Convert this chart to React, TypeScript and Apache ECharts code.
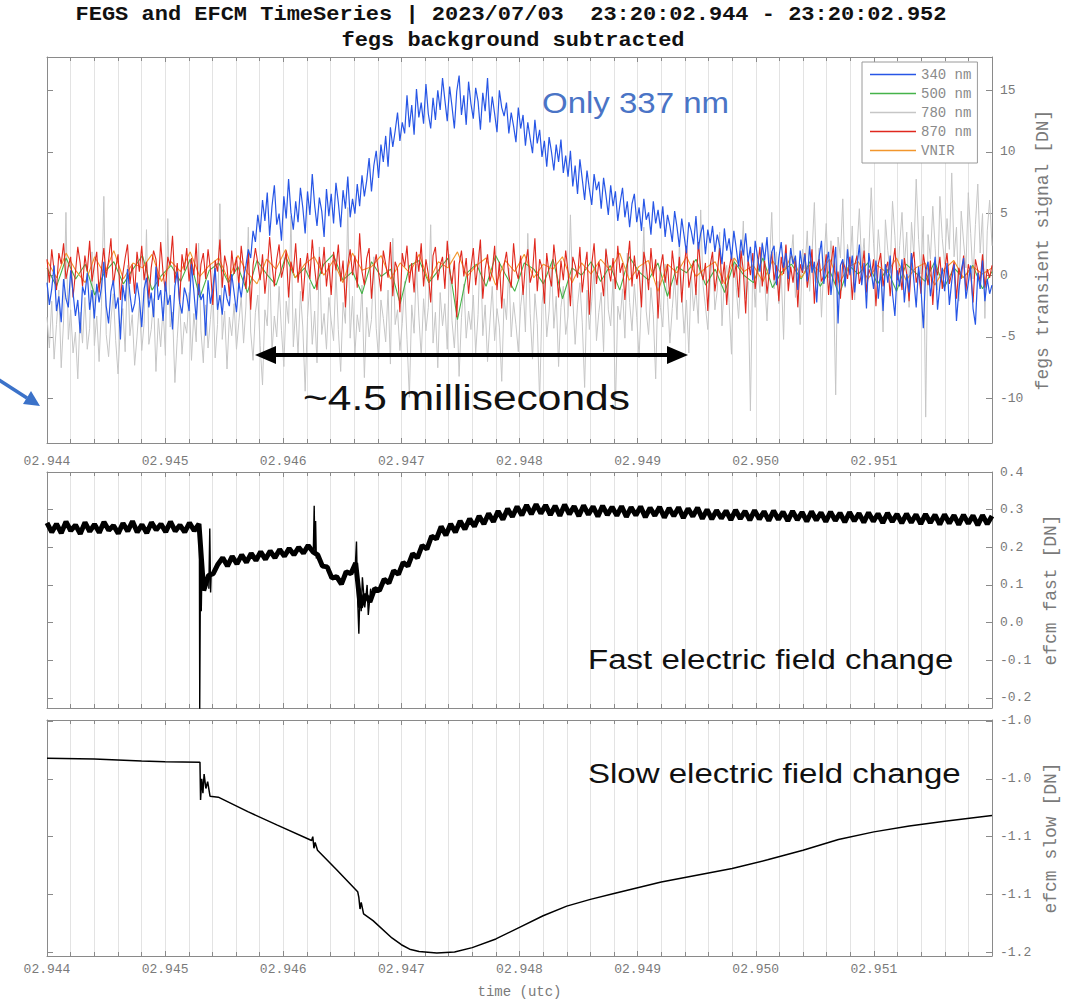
import React, { useEffect, useRef } from "react";
import * as echarts from "echarts";

// ---------------- data ----------------
// time axis is in ms after 23:20:02.944, 0..8 ms
const xTickLabels = ["02.944", "02.945", "02.946", "02.947", "02.948", "02.949", "02.950", "02.951"];
const fegsTicks = [-10, -5, 0, 5, 10, 15];
const fastTicks = [-0.2, -0.1, 0, 0.1, 0.2, 0.3, 0.4];
const slowTicks = [-1.2, -1.14, -1.08, -1.02, -0.96];

// FEGS channels, 400 samples evenly over 8 ms
const fegs340 = [
  -0.6, -2.4, -1.1, 0.8, -2.9, -1.7, -3.8, -0.3, -1.9, -2.6, 0.4, -1.4, -3.3, -2.0, -4.7, -0.9, -1.6, 0.2, -2.8, -1.2,
  -3.5, -0.7, -2.2, -1.0, 1.1, -2.5, -3.9, -1.3, -0.4, -2.7, -1.8, -5.2, -0.8, -2.1, 0.5, -1.5, -3.0, -2.3, -0.6, -1.9,
  -4.2, -1.1, -0.2, -2.6, -1.4, -3.4, 0.7, -2.0, -1.2, -3.7, -0.5, -2.4, -1.6, -4.4, -0.9, 0.3, -2.2, -3.1, -1.0, -1.7,
  -2.9, 0.9, -1.3, -3.6, -0.7, -2.0, -1.5, -4.9, -0.4, -2.3, -1.1, 0.6, -2.8, -1.6, -3.2, -0.8, -1.9, -2.5, 0.1, -1.4,
  -3.0, -0.6, -1.8, -0.2, 0.8, 2.1, 1.4, 3.6, 2.7, 4.9, 3.5, 6.1, 4.4, 6.7, 3.2, 5.6, 7.3, 4.1, 5.0, 2.8,
  6.4, 4.6, 7.8, 5.1, 3.7, 6.0, 4.3, 7.1, 5.5, 3.4, 6.8, 4.9, 8.2, 5.7, 4.0, 6.3, 5.2, 3.1, 7.0, 4.8,
  6.6, 4.2, 7.5, 5.9, 3.9, 6.9, 5.4, 8.0, 4.7, 6.2, 5.0, 7.4, 5.6, 8.1, 6.4, 7.7, 9.5, 6.8, 8.9, 10.1,
  7.9, 10.6, 9.2, 11.3, 8.8, 12.0, 10.4, 11.7, 13.2, 10.9, 12.4, 11.5, 14.6, 12.0, 13.8, 11.4, 15.1, 12.8, 14.0, 12.3,
  15.5, 13.1, 11.9, 14.4, 12.6, 15.0, 13.4, 16.0, 14.2, 12.5, 15.3, 13.7, 11.9, 14.9, 16.2, 13.0, 14.6, 12.2, 15.7, 13.9,
  12.7, 15.2, 14.1, 11.8, 14.8, 13.3, 16.0, 12.4, 14.5, 13.1, 11.6, 15.0, 13.6, 12.9, 14.0, 11.5, 13.2, 12.1, 10.8, 13.6,
  11.9, 13.0, 10.5, 12.4, 11.1, 9.9, 12.6, 10.7, 11.8, 9.6, 10.9, 8.8, 11.2, 10.0, 8.5, 10.6, 9.2, 11.0, 8.3, 9.7,
  8.0, 10.1, 7.2, 8.9, 6.6, 9.4, 7.8, 6.1, 8.5, 7.0, 5.7, 8.2, 6.9, 7.6, 5.4, 7.9, 6.5, 4.9, 7.3, 5.6,
  6.8, 4.4, 5.9, 7.1, 4.7, 6.0, 3.9, 5.8, 6.6, 4.3, 5.5, 3.6, 6.2, 4.5, 5.1, 3.3, 6.0, 4.2, 5.3, 3.8,
  5.6, 3.1, 4.9, 4.0, 2.7, 5.2, 3.9, 2.3, 4.6, 3.2, 1.8, 4.3, 3.6, 2.5, 4.8, 2.1, 3.4, 4.1, 1.7, 3.7,
  2.6, 4.0, 1.9, 3.3, 2.4, 0.9, 3.8, 2.0, 3.0, 1.3, 3.6, 2.2, 0.7, 2.9, 1.6, 3.4, 1.1, 2.3, -0.4, 2.8,
  1.5, 0.3, 2.6, 1.2, 3.1, 0.1, 1.9, 2.4, -0.8, 1.4, 2.7, 0.6, 1.8, -0.3, 2.2, 0.9, 1.6, -1.2, 2.0, 0.4,
  1.7, -0.5, 2.4, 0.2, 1.1, -2.2, 1.5, 2.8, -0.7, 0.9, 1.9, -1.6, 0.4, 2.3, -3.9, 0.8, 1.3, -0.9, 2.1, 0.0,
  1.6, -1.4, 0.7, 2.5, -0.8, 1.0, -2.7, 1.8, 0.3, -1.1, 1.2, -1.9, 0.5, -2.9, 0.9, -0.6, 1.6, -1.5, -3.3, 0.4,
  -0.9, 1.3, -2.2, 0.1, -1.4, 1.8, -0.4, -2.6, 0.7, -1.0, -4.3, 0.3, 1.1, -1.7, -0.2, 1.5, -2.8, -0.8, 0.6, -1.3,
  1.0, -2.4, -0.5, 0.9, -3.7, -1.2, 0.4, 1.4, -1.9, -0.6, 0.8, -2.7, -4.0, 0.2, -1.1, 1.2, -2.1, -0.3, -1.5, -0.8,
];
const fegs780 = [
  -3.4, -5.9, -2.1, -6.8, -4.0, -1.2, -7.5, -3.7, 5.1, -5.2, -2.8, -6.3, -4.6, -8.4, -3.0, -5.5, -1.8, -6.0, -4.3, 1.9,
  -5.7, -3.3, -7.0, -2.5, 6.4, -4.8, -6.6, -3.6, -1.5, -5.3, -8.0, -4.1, -2.7, -6.2, 0.8, -4.9, -3.2, -7.3, -5.0, -2.2,
  -6.1, -3.9, 3.7, -5.6, -4.4, -1.9, -7.8, -3.5, -5.8, -2.6, -6.5, 4.6, -4.2, -3.0, -8.7, -5.1, -2.0, -6.4, -3.8, -4.7,
  -1.4, -6.9, -3.1, -5.4, 2.6, -4.5, -7.1, -2.4, -5.9, -3.6, -1.1, -6.7, -4.0, 5.8, -5.2, -2.9, -7.6, -3.4, -4.9, -2.3,
  -6.0, -3.8, -1.7, -5.5, -2.5, 3.9, -4.6, -6.9, -3.0, -1.6, -5.7, -8.9, -2.8, -4.1, 1.2, -6.2, -3.3, -5.0, -0.9, -4.5,
  -7.4, -2.1, -3.9, 4.8, -5.8, -2.7, -6.5, -1.3, -4.2, -9.4, -3.4, -0.6, -5.6, -2.9, -7.1, 2.3, -4.8, -3.1, -6.0, -1.8,
  -3.7, -5.3, 0.4, -4.4, -7.8, -2.2, -3.9, 5.5, -5.1, -1.7, -6.4, -3.2, -4.6, -0.8, -8.3, -2.6, -5.0, -3.6, 1.5, -4.3,
  -6.8, -2.0, -3.5, -5.4, -1.2, -7.2, 3.0, -4.0, -2.8, -6.1, -3.9, -0.5, -5.2, -9.9, -2.4, -4.7, 0.9, -3.3, -6.6, -1.9,
  -4.5, -2.6, 4.1, -5.5, -3.0, -7.5, -1.4, -4.1, -2.3, -6.0, 1.7, -3.7, -5.9, -2.1, -8.2, -3.4, -0.7, -5.1, -2.9, -4.4,
  -1.6, -6.3, -3.2, 2.8, -4.9, -2.4, -7.0, -3.8, -0.9, -5.3, -2.7, -4.2, -8.6, -1.9, -3.6, 0.6, -5.0, -2.2, -4.0, -6.2,
  -2.5, -0.8, -4.6, 3.4, -3.1, -6.8, -1.5, -3.9, -10.2, -2.3, -0.4, -5.0, -2.9, 1.0, -4.3, -1.7, -7.4, -2.6, -0.9, -4.8,
  -3.3, 4.9, -1.9, -5.6, -2.4, -0.6, -3.8, -9.1, -1.2, -4.4, -2.1, 0.7, -5.3, -3.0, -1.4, -6.2, 2.2, -2.8, -4.1, -0.3,
  -10.8, -2.5, -3.6, -1.1, -5.1, 1.8, -2.2, -4.5, -0.7, -3.4, -6.7, -1.6, 3.9, -2.9, -4.8, -1.0, -3.2, -8.4, -0.5, -2.6,
  -4.2, 0.9, -1.8, -5.5, -2.7, -0.2, -3.6, 2.6, -1.3, -4.7, -2.0, -6.3, 0.3, -2.9, -1.1, -3.9, 5.3, -0.8, -2.5, -4.4,
  -0.6, 1.7, -2.8, -1.2, 3.5, -4.1, -0.3, 0.8, -2.2, -6.4, 1.4, -1.0, -3.5, 0.2, 4.4, -1.9, -0.5, -11.0, 0.9, -2.6,
  1.2, -1.4, 2.7, -0.4, -3.7, 0.6, 5.1, -1.1, 1.9, -2.3, 0.3, -5.2, 2.4, -0.7, 1.0, 3.3, -1.8, 0.1, -4.0, 2.1,
  0.5, 3.6, -1.3, 1.7, 5.9, -0.6, 2.2, -3.4, 1.0, 4.2, -0.2, 2.8, 0.3, -9.7, 3.1, 1.4, 6.2, -1.0, 2.5, 0.7,
  4.0, -2.0, 2.1, 5.4, 0.6, 3.0, -1.5, 1.8, 7.1, 2.6, -0.4, 3.7, 1.2, -4.6, 4.5, 2.0, 0.2, 6.0, 3.2, -0.9,
  2.4, 5.1, 0.8, 3.5, -2.6, 4.3, 1.6, 7.8, 2.9, 0.1, 4.8, -11.5, 3.3, 1.3, 5.6, 2.2, -1.2, 6.4, 3.0, 0.9,
  4.6, 2.1, 8.3, 1.5, 3.9, -2.1, 5.2, 2.7, 0.6, 6.7, 3.4, -0.3, 4.1, 7.4, 1.8, 5.0, -3.5, 3.6, 6.1, 2.4,
];
const fegs870 = [
  1.3, -0.6, 2.1, 0.4, -1.2, 1.8, 0.9, 2.6, -0.3, 0.7, 1.5, -1.8, 0.2, 2.3, 1.0, -0.9, 1.6, 0.3, 2.8, -0.5,
  0.8, 1.9, -1.4, 0.5, 2.2, -0.2, 1.2, 3.0, -0.8, 0.6, 1.7, -2.0, 0.1, 1.4, 2.5, -0.7, 0.9, -1.5, 1.9, 0.3,
  2.4, -0.4, 1.1, -1.9, 0.6, 2.0, 1.3, -0.9, 2.7, 0.2, -1.3, 1.5, 0.8, 3.2, -0.6, 1.0, -2.3, 1.7, 0.4, 2.2,
  -0.5, 1.4, 0.0, 2.6, -1.6, 0.9, 1.8, -0.3, 2.1, 0.5, -2.4, 1.2, 0.3, 2.9, -1.0, 1.6, 0.7, -1.7, 2.0, 0.1,
  1.5, -0.8, 2.4, 0.6, -1.1, 1.9, -2.8, 0.8, 2.2, 1.0, -0.4, 1.7, -1.5, 0.4, 3.1, 0.9, -0.9, 1.3, 2.5, -0.2,
  0.7, 2.0, -1.8, 1.1, 0.2, 2.6, -0.6, 1.4, -2.1, 0.5, 1.8, -0.3, 2.9, 0.6, -1.2, 1.5, 0.1, 2.3, -0.9, 1.0,
  -1.6, 1.9, 0.4, 2.5, -0.5, 1.2, -2.6, 0.8, 2.1, 0.0, 1.6, -1.0, 3.4, 0.3, -0.8, 1.4, 2.2, -1.9, 0.6, 1.7,
  0.2, -1.3, 2.0, 0.9, -0.2, 2.7, -1.7, 1.1, 0.5, -3.0, 1.8, 0.7, 2.4, -0.6, 1.0, -1.4, 1.9, 0.3, 2.6, -0.9,
  1.3, 0.1, -2.2, 1.6, 2.3, -0.4, 0.8, 1.5, -1.1, 2.8, 0.4, -0.7, 1.2, -3.4, 0.9, 2.0, -0.1, 1.4, -1.5, 0.6,
  2.2, -0.8, 1.0, 2.9, -1.9, 0.5, 1.7, -0.5, 0.3, 2.4, -1.2, 1.1, -2.7, 0.8, 1.9, 0.0, -1.0, 2.6, 0.4, -0.3,
  1.6, -1.6, 0.9, 2.1, -0.6, 0.2, 3.0, -1.3, 1.3, 0.6, -2.3, 1.8, 0.1, -0.9, 2.5, 0.7, -1.8, 1.2, -0.4, 2.0,
  0.3, -2.5, 1.5, 0.8, -0.2, 2.3, -1.4, 0.5, 1.9, -3.2, 0.9, 2.6, -0.7, 1.1, 0.0, -1.7, 2.1, 0.6, -0.5, 1.4,
  -1.1, 2.4, 0.2, 1.0, -2.0, 0.7, 2.8, -0.9, 1.6, -0.3, 0.4, -2.6, 1.9, 0.8, -1.2, 2.2, -0.1, 1.3, -3.5, 0.6,
  1.7, -0.6, 0.9, -1.9, 2.0, 0.3, -0.8, 1.5, -2.2, 0.6, 2.4, -1.0, 0.1, 1.2, -1.6, 2.7, 0.5, -0.4, 1.0, -2.9,
  0.8, 1.9, -1.3, 0.2, 2.2, -0.7, 1.1, -2.4, 0.5, 1.6, -0.2, 0.9, -1.8, 2.0, 0.4, -3.1, 1.3, 0.0, 1.8, -1.1,
  0.6, 2.3, -0.9, 1.2, -1.5, 0.3, 1.9, -0.4, 0.8, -2.1, 1.5, 0.1, 2.5, -1.3, 0.7, -0.6, 1.4, -2.6, 0.9, 0.2,
  1.8, -1.0, 0.4, 2.1, -2.3, 0.7, 1.3, -0.5, 0.0, 1.7, -1.6, 0.9, 2.4, -0.8, 0.3, -1.9, 1.1, 0.6, -0.3, 1.5,
  -2.0, 0.8, 1.6, -0.7, 0.2, 2.0, -1.4, 0.5, -0.1, 1.3, -2.5, 0.9, 1.8, -0.9, 0.4, 1.1, -1.7, 0.7, 2.2, -0.4,
  0.6, -1.2, 1.4, 0.1, -2.1, 1.0, 1.9, -0.6, 0.3, -1.5, 1.7, 0.5, -0.8, 1.2, -2.4, 0.8, 0.0, 1.5, -1.1, 0.4,
  1.8, -0.7, 0.2, 1.1, -1.9, 0.6, -0.3, 1.6, -1.3, 0.9, 0.1, -2.2, 1.3, 0.4, -0.5, 1.7, -1.0, 0.5, -0.2, 0.8,
];
// 100 samples evenly over 8 ms
const fegs500 = [
  0.6, -0.9, 1.4, -0.3, 0.9, -1.6, 0.2, 1.1, -0.7, 0.5, 1.6, -1.2, 0.0, 0.8, -0.5, 1.3, -1.8, 0.4, 1.0, -0.6,
  0.7, -1.4, 1.2, 0.1, -0.8, 1.5, -0.2, 0.6, -1.1, 0.9, 1.7, -0.4, 0.3, -1.5, 1.1, -0.1, 0.5, -2.3, 0.8, 1.2,
  -0.6, 0.4, 1.4, -3.6, 0.2, 0.9, -0.9, 1.6, 0.1, -1.3, 1.0, 0.5, -0.7, 1.3, -1.9, 0.6, 0.0, 1.1, -0.5, 0.8,
  -1.2, 1.5, 0.3, -0.4, 1.0, -1.7, 0.7, 0.2, 1.3, -0.8, 0.5, -1.4, 1.1, 0.0, -0.6, 1.4, -1.0, 0.3, 0.9, -0.3,
  1.2, -0.9, 0.4, -1.6, 0.8, 0.1, 1.0, -0.7, 0.5, -1.3, 0.9, 0.2, -0.5, 1.1, -1.0, 0.6, -0.2, 0.8, -1.1, 0.3,
];
const fegsVNIR = [
  1.2, -0.2, 1.8, 0.4, -0.6, 1.5, 0.1, 2.0, -0.3, 1.0, 0.6, 1.7, -0.5, 1.1, 0.3, 1.9, -0.1, 0.8, 1.4, -0.4,
  1.6, 0.2, -0.7, 1.3, 0.5, 2.1, -0.2, 0.9, 1.5, 0.0, 1.2, -0.6, 1.8, 0.4, 0.7, 1.6, -0.3, 1.0, 0.2, 1.7,
  -0.5, 1.1, 0.6, 1.9, -0.1, 0.8, 1.4, -0.8, 1.2, 0.3, 1.7, -0.2, 0.9, 0.5, 1.5, -0.6, 1.0, 0.1, 1.3, 0.4,
  1.8, -0.4, 0.7, 1.2, -1.3, 0.9, 0.2, 1.5, -0.1, 0.6, 1.1, -0.7, 1.4, 0.3, 0.8, -0.5, 1.2, 0.0, 1.6, -0.2,
  0.9, 0.3, 1.3, -0.6, 0.7, 1.1, -0.3, 0.8, 0.2, 1.4, -0.4, 0.6, 1.0, -0.8, 0.5, 1.2, -0.2, 0.7, 0.1, 0.6,
];

// EFCM fast, 200 samples evenly over 8 ms
const efcmFast = [
  0.265, 0.240, 0.262, 0.238, 0.268, 0.244, 0.259, 0.236, 0.266, 0.242, 0.261, 0.239, 0.267, 0.245, 0.258, 0.237,
  0.264, 0.243, 0.269, 0.240, 0.260, 0.238, 0.266, 0.246, 0.262, 0.241, 0.268, 0.243, 0.259, 0.240, 0.265, 0.244, 0.262,
  0.085, 0.125, 0.130, 0.155,
  0.172, 0.150, 0.176, 0.156, 0.180, 0.160, 0.184, 0.165, 0.188, 0.168, 0.190, 0.172, 0.194, 0.176, 0.197, 0.180, 0.200, 0.184,
  0.205, 0.188,
  0.180, 0.150, 0.148, 0.118, 0.122,
  0.102, 0.135, 0.130, 0.158,
  0.040, 0.075, 0.055,
  0.090, 0.085, 0.115, 0.105, 0.138, 0.128, 0.160, 0.150, 0.183, 0.172, 0.205, 0.195, 0.230, 0.222,
  0.255, 0.232, 0.262, 0.240, 0.270, 0.248, 0.276, 0.255, 0.283, 0.262, 0.290, 0.268, 0.296, 0.274, 0.302, 0.281,
  0.308, 0.285, 0.312, 0.288, 0.314,
  0.290, 0.312, 0.286, 0.310, 0.284, 0.313, 0.288, 0.309, 0.283, 0.311, 0.287, 0.308, 0.282, 0.310, 0.286, 0.307,
  0.284, 0.309, 0.281, 0.306, 0.285, 0.308, 0.280, 0.305, 0.284, 0.307, 0.279, 0.304, 0.283, 0.306, 0.278, 0.303,
  0.282, 0.305,
  0.276, 0.300, 0.275, 0.298, 0.277, 0.297, 0.273, 0.299, 0.276, 0.296, 0.272, 0.298, 0.275, 0.295, 0.271, 0.297,
  0.274, 0.294, 0.270, 0.296, 0.273, 0.293, 0.269, 0.295, 0.272, 0.292, 0.268, 0.294, 0.271, 0.291, 0.267, 0.293,
  0.270, 0.290, 0.266, 0.292, 0.269, 0.289, 0.265, 0.291, 0.268, 0.288, 0.264, 0.289, 0.266, 0.287, 0.262, 0.288,
  0.265, 0.286, 0.261, 0.287, 0.264, 0.285, 0.260, 0.286, 0.263, 0.284, 0.259, 0.285, 0.262, 0.283,
];
// EFCM fast transients: [ms, value], '-' breaks the line
const efcmFastSpikes: any[] = [
  [1.29, 0.24], [1.293, -0.23], [1.297, 0.02], [1.302, 0.19], [1.306, 0.03], [1.31, 0.11], ["-", "-"],
  [1.37, 0.09], [1.378, 0.25], [1.385, 0.08], [1.39, 0.13], ["-", "-"],
  [2.255, 0.195], [2.262, 0.31], [2.268, 0.18], [2.274, 0.27], [2.28, 0.17], ["-", "-"],
  [2.61, 0.15], [2.62, 0.215], [2.63, 0.06], [2.64, -0.03], [2.65, 0.09], [2.66, 0.03], [2.67, 0.12],
  [2.69, 0.04], [2.71, 0.1], [2.72, 0.02], [2.74, 0.09],
];
// EFCM slow: [ms, value]
const efcmSlowTime = [
  0, 0.4, 0.8, 1.0, 1.295, 1.3, 1.31, 1.32, 1.33, 1.345, 1.36, 1.38, 1.45, 1.7, 1.95, 2.24, 2.25, 2.26, 2.27, 2.29,
  2.45, 2.63, 2.64, 2.65, 2.66, 2.68, 2.76, 2.92, 3.0, 3.07, 3.15, 3.3, 3.45, 3.6, 3.8, 4.0, 4.2, 4.4, 4.6, 4.8,
  5.0, 5.2, 5.5, 5.8, 6.1, 6.4, 6.7, 7.0, 7.3, 7.6, 8.0,
];
const efcmSlow = [
  -0.9986, -0.9995, -1.0015, -1.0022, -1.0027, -1.042, -1.02, -1.035, -1.015, -1.03, -1.023, -1.038, -1.039, -1.054,
  -1.068, -1.084, -1.08, -1.092, -1.086, -1.094, -1.114, -1.137, -1.143, -1.155, -1.148, -1.16, -1.167, -1.185,
  -1.192, -1.1966, -1.199, -1.2005, -1.1995, -1.195, -1.186, -1.174, -1.162, -1.152, -1.145, -1.139, -1.133, -1.127,
  -1.12, -1.113, -1.104, -1.094, -1.083, -1.075, -1.069, -1.064, -1.058,
];

// ---------------- chart ----------------
const MONO = "'Liberation Mono', 'DejaVu Sans Mono', monospace";
const SANS = "'Liberation Sans', Arial, sans-serif";
const AXIS_COLOR = "#8a8a8a";
const GRID_COLOR = "#e3e3e3";
const LABEL_COLOR = "#7a7a7a";

const evenly = (vals: number[]) => vals.map((v, i) => [(i * 8) / (vals.length - 1), v]);

function xAxesFor(gridIndex: number, showLabels: boolean, labelMargin: number, name?: string) {
  const base = {
    type: "value",
    gridIndex,
    min: 0,
    max: 8,
    interval: 1,
    axisLine: { show: true, onZero: false, lineStyle: { color: AXIS_COLOR, width: 1 } },
    axisTick: { show: true, inside: true, length: 5, lineStyle: { color: AXIS_COLOR } },
    minorTick: { show: true, splitNumber: 5, length: 4, lineStyle: { color: AXIS_COLOR } },
  };
  return [
    {
      ...base,
      position: "bottom",
      splitLine: { show: true, lineStyle: { color: GRID_COLOR, width: 1 } },
      minorSplitLine: { show: true, lineStyle: { color: GRID_COLOR, width: 1 } },
      axisLabel: {
        show: showLabels,
        margin: labelMargin,
        fontFamily: MONO,
        fontSize: 13,
        color: LABEL_COLOR,
        showMaxLabel: false,
        formatter: (v: number) => xTickLabels[Math.round(v)] ?? "",
      },
      name: name ?? "",
      nameLocation: "middle",
      nameGap: 29,
      nameTextStyle: { fontFamily: MONO, fontSize: 14, color: LABEL_COLOR },
    },
    {
      ...base,
      position: "top",
      splitLine: { show: false },
      axisLabel: { show: false },
    },
  ];
}

function yAxesFor(
  gridIndex: number,
  min: number,
  max: number,
  ticks: number[],
  fmt: (v: number) => string,
  name: string
) {
  const base = {
    type: "value",
    gridIndex,
    min,
    max,
    splitLine: { show: false },
    axisLine: { show: true, onZero: false, lineStyle: { color: AXIS_COLOR, width: 1 } },
    axisTick: { show: true, inside: true, length: 6, customValues: ticks, lineStyle: { color: AXIS_COLOR } },
  };
  return [
    {
      ...base,
      position: "right",
      axisLabel: {
        show: true,
        customValues: ticks,
        formatter: fmt,
        margin: 8,
        fontFamily: MONO,
        fontSize: 13,
        color: LABEL_COLOR,
      },
      name,
      nameLocation: "middle",
      nameRotate: 90,
      nameGap: 41,
      nameTextStyle: { fontFamily: MONO, fontSize: 18, color: LABEL_COLOR },
    },
    { ...base, position: "left", axisLabel: { show: false } },
  ];
}

function buildOption() {
  const line = (name: string, data: any[], color: string, width: number, xi: number, yi: number) => ({
    type: "line",
    name,
    data,
    xAxisIndex: xi,
    yAxisIndex: yi,
    symbol: "none",
    showSymbol: false,
    lineStyle: { color, width },
    itemStyle: { color },
    silent: true,
  });

  return {
    animation: false,
    backgroundColor: "#ffffff",
    grid: [
      { left: 47, right: 87, top: 57, height: 386, containLabel: false, outerBoundsMode: "none" },
      { left: 47, right: 87, top: 472, height: 236, containLabel: false, outerBoundsMode: "none" },
      { left: 47, right: 87, top: 720, height: 236, containLabel: false, outerBoundsMode: "none" },
    ],
    xAxis: [
      ...xAxesFor(0, true, 12),
      ...xAxesFor(1, false, 8),
      ...xAxesFor(2, true, 7, "time (utc)"),
    ],
    yAxis: [
      ...yAxesFor(0, -13.6, 17.7, fegsTicks, (v) => String(Math.round(v)), "fegs transient signal [DN]"),
      ...yAxesFor(1, -0.227, 0.4, fastTicks, (v) => v.toFixed(1), "efcm fast [DN]"),
      ...yAxesFor(2, -1.2037, -0.959, slowTicks, (v) => v.toFixed(1), "efcm slow [DN]"),
    ],
    legend: {
      data: ["340 nm", "500 nm", "780 nm", "870 nm", "VNIR"],
      orient: "vertical",
      left: 862,
      top: 62,
      icon: "rect",
      itemWidth: 46,
      itemHeight: 1.5,
      itemGap: 4,
      padding: [5, 6, 5, 8],
      borderColor: "#9a9a9a",
      borderWidth: 1,
      backgroundColor: "#ffffff",
      selectedMode: false,
      textStyle: { fontFamily: MONO, fontSize: 14, lineHeight: 15, color: "#8a8a8a" },
    },
    series: [
      line("780 nm", evenly(fegs780), "#c6c6c6", 1, 0, 0),
      line("500 nm", evenly(fegs500), "#46b34a", 1.1, 0, 0),
      line("VNIR", evenly(fegsVNIR), "#f2962c", 1.1, 0, 0),
      line("870 nm", evenly(fegs870), "#e0281e", 1.1, 0, 0),
      line("340 nm", evenly(fegs340), "#2756e6", 1.2, 0, 0),
      line("efcm fast", evenly(efcmFast), "#000000", 5, 2, 2),
      line("efcm fast transients", efcmFastSpikes, "#000000", 1.4, 2, 2),
      line(
        "efcm slow",
        efcmSlowTime.map((t, i) => [t, efcmSlow[i]]),
        "#000000",
        1.5,
        4,
        4
      ),
    ],
    graphic: [
      {
        type: "text",
        x: 511,
        y: 15,
        scaleX: 1.1,
        style: {
          text: "FEGS and EFCM TimeSeries | 2023/07/03  23:20:02.944 - 23:20:02.952",
          fontFamily: MONO,
          fontWeight: "bold",
          fontSize: 20,
          fill: "#111",
          align: "center",
          verticalAlign: "middle",
        },
      },
      {
        type: "text",
        x: 513,
        y: 41,
        scaleX: 1.1,
        style: {
          text: "fegs background subtracted",
          fontFamily: MONO,
          fontWeight: "bold",
          fontSize: 20,
          fill: "#111",
          align: "center",
          verticalAlign: "middle",
        },
      },
      {
        type: "text",
        x: 542,
        y: 103,
        scaleX: 1.1,
        z: 50,
        style: { text: "Only 337 nm", fontFamily: SANS, fontSize: 30, fill: "#4a74c6", verticalAlign: "middle" },
      },
      {
        type: "text",
        x: 303,
        y: 397,
        scaleX: 1.18,
        z: 50,
        style: { text: "~4.5 milliseconds", fontFamily: SANS, fontSize: 36, fill: "#111", verticalAlign: "middle" },
      },
      {
        type: "text",
        x: 588,
        y: 659,
        scaleX: 1.18,
        z: 50,
        style: { text: "Fast electric field change", fontFamily: SANS, fontSize: 28, fill: "#111", verticalAlign: "middle" },
      },
      {
        type: "text",
        x: 588,
        y: 773,
        scaleX: 1.18,
        z: 50,
        style: { text: "Slow electric field change", fontFamily: SANS, fontSize: 28, fill: "#111", verticalAlign: "middle" },
      },
      {
        type: "line",
        z: 50,
        shape: { x1: 270, y1: 355, x2: 673, y2: 355 },
        style: { stroke: "#000", lineWidth: 4 },
      },
      {
        type: "polygon",
        z: 50,
        shape: { points: [[255, 355], [276, 346], [276, 364]] },
        style: { fill: "#000" },
      },
      {
        type: "polygon",
        z: 50,
        shape: { points: [[688, 355], [667, 346], [667, 364]] },
        style: { fill: "#000" },
      },
      {
        type: "line",
        z: 50,
        shape: { x1: -4, y1: 378, x2: 27, y2: 398 },
        style: { stroke: "#3b72c9", lineWidth: 3.5 },
      },
      {
        type: "polygon",
        z: 50,
        shape: { points: [[40, 406], [23, 404], [31, 391]] },
        style: { fill: "#3b72c9" },
      },
    ],
  };
}

export default function App() {
  const ref = useRef<HTMLDivElement | null>(null);
  useEffect(() => {
    if (!ref.current) return;
    const chart = echarts.init(ref.current, undefined, { renderer: "svg" });
    chart.setOption(buildOption() as any);
    return () => chart.dispose();
  }, []);
  return (
    <div
      ref={ref}
      style={{ position: "fixed", left: 0, top: 0, width: 1079, height: 1001, background: "#fff" }}
    />
  );
}
